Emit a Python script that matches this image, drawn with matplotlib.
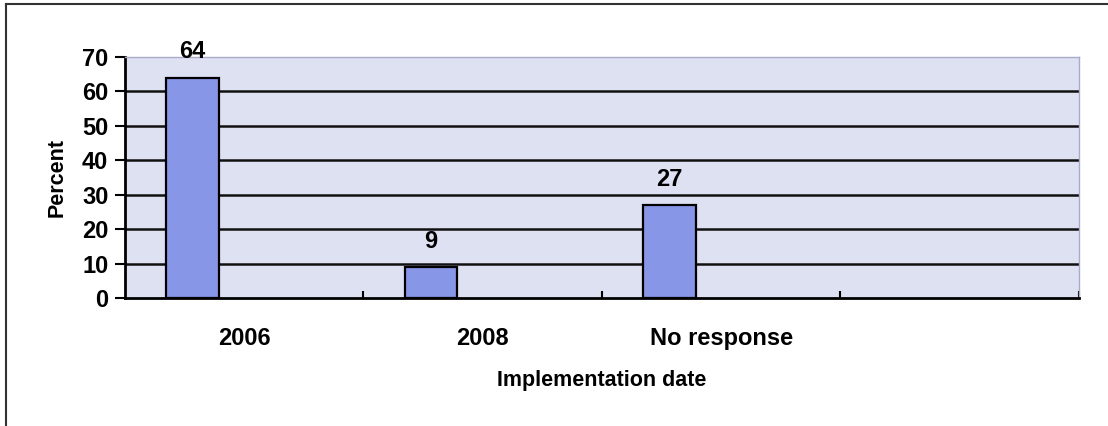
import matplotlib.pyplot as plt
import numpy as np
from matplotlib.lines import Line2D

plt.rcParams['font.family'] = ['Liberation Sans', 'DejaVu Sans']
plt.rcParams['font.weight'] = 'bold'

# data
categories = ['2006', '2008', 'No response']
percent = [64, 9, 27]
n_slots = 4  # the category axis has one empty slot at the right

bar_color = '#8796e6'
plot_bg = '#dee1f2'

fig = plt.figure(figsize=(11.08, 4.26), dpi=100, facecolor='w')
ax = fig.add_axes([0.1128, 0.3005, 0.861, 0.5657])
ax.set_facecolor(plot_bg)

xx = np.arange(len(categories))
ax.bar(xx + 0.283, percent, width=0.222, color=bar_color,
       edgecolor='black', linewidth=1.6, zorder=3)

for x, v in zip(xx + 0.283, percent):
    ax.annotate(str(v), (x, v), xytext=(0, 14), textcoords='offset points',
                ha='center', va='baseline', fontsize=17, fontweight='bold')

# horizontal gridlines
for yy in range(10, 70, 10):
    ax.axhline(yy, color='#111111', lw=1.8, zorder=1)

ax.set_xlim(0, n_slots)
ax.set_ylim(0, 70)
ax.set_yticks(range(0, 71, 10))
ax.tick_params(axis='y', direction='out', length=7, width=1.5,
               labelsize=17, pad=5)

# ticks on the category boundaries, labels in the middle of each slot
ax.set_xticks(np.arange(1, n_slots + 1))
ax.set_xticklabels([])
ax.tick_params(axis='x', which='major', direction='in', length=5, width=1.5)
ax.set_xticks(xx + 0.5, minor=True)
ax.set_xticklabels(categories, minor=True)
ax.tick_params(axis='x', which='minor', length=0, labelsize=17, pad=21)

ax.set_ylabel('Percent', fontsize=15.5, fontweight='bold', labelpad=10)
ax.set_xlabel('Implementation date', fontsize=15.5, fontweight='bold',
              labelpad=14)

for side in ['left', 'bottom']:
    ax.spines[side].set_linewidth(2)
    ax.spines[side].set_color('black')
for side in ['top', 'right']:
    ax.spines[side].set_linewidth(1)
    ax.spines[side].set_color('#a9abc9')

# border of the scanned chart frame
fig.add_artist(Line2D([0.0055, 1.0], [0.991, 0.991], color='#333333', lw=1.5))
fig.add_artist(Line2D([0.0055, 0.0055], [0.0, 0.991], color='#333333', lw=1.5))

fig.savefig('out.png', dpi=100)
